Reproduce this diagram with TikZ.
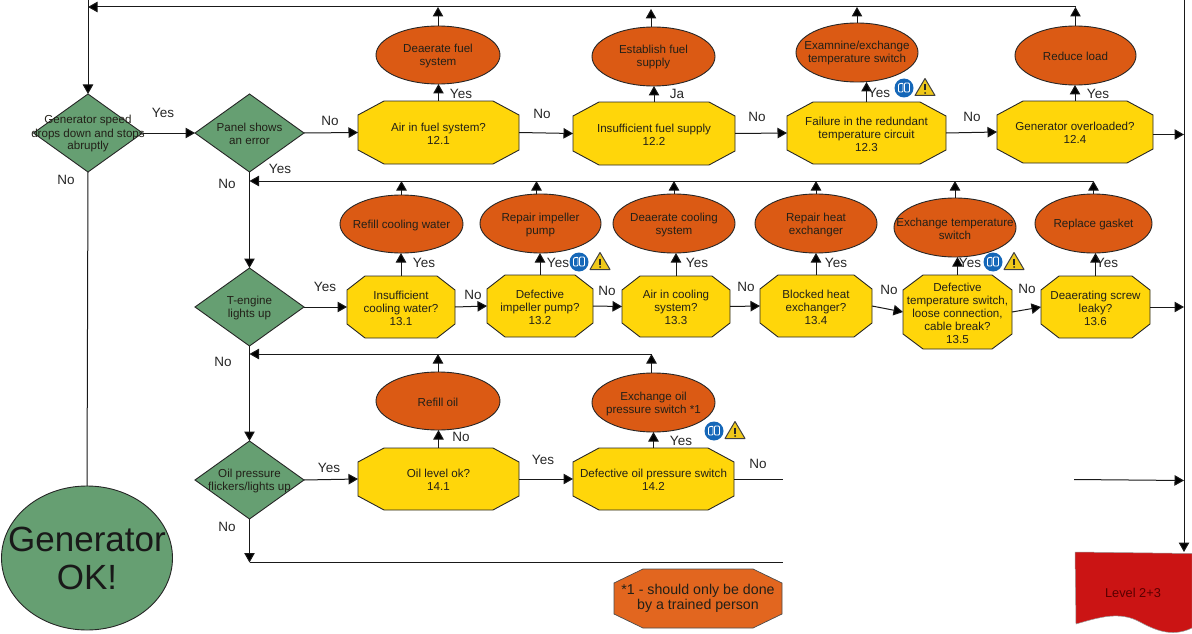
\documentclass[tikz,border=0pt]{standalone}
\usepackage{fontspec}
\setmainfont{Liberation Sans}
\usetikzlibrary{shapes.geometric,arrows.meta,calc}
\definecolor{dgreen}{HTML}{669F72}
\definecolor{eorange}{HTML}{DB5A14}
\definecolor{oyellow}{HTML}{FFD60A}
\definecolor{lred}{HTML}{CB1414}
\definecolor{forange}{HTML}{E2661F}
\definecolor{iblue}{HTML}{1567B8}
\definecolor{iyellow}{HTML}{EFC81A}
\definecolor{inkdark}{HTML}{222018}
\tikzset{
  flow/.style={line width=1pt,draw=black!90,-{Triangle[length=9.5pt,width=10.5pt,fill=black]}},
  plain/.style={line width=1pt,draw=black!90},
  outline/.style={line width=0.9pt,draw=black!85},
  txt/.style={text=inkdark,align=center,font=\fontsize{11.6}{13}\selectfont,inner sep=0pt,yshift=-1pt},
  lab/.style={text=black!85,font=\fontsize{13.5}{15}\selectfont,inner sep=0pt},
  hold/.style={shape=rectangle,inner sep=0pt,outer sep=0pt},
  dia/.style={shape=diamond,outline,fill=dgreen,inner sep=0pt,outer sep=0pt,minimum width=109pt,minimum height=78pt},
  ell/.style={shape=ellipse,outline,fill=eorange,inner sep=0pt,outer sep=0pt},
}
% name, x1, x2, y1, y2, cutx, cuty, fill, text
\newcommand{\octnode}[9]{%
  \fill[#8,outline] (#2+#6,#4) -- (#3-#6,#4) -- (#3,#4+#7) -- (#3,#5-#7) -- (#3-#6,#5) -- (#2+#6,#5) -- (#2,#5-#7) -- (#2,#4+#7) -- cycle;
  \node[hold,minimum width=#3-#2,minimum height=#5-#4] (#1) at ({(#2+#3)/2},{(#4+#5)/2}) {};
  \node[txt] (#1t) at (#1.center) {#9};}
% name, cx, cy, text
\newcommand{\dianode}[4]{%
  \node[dia] (#1) at (#2,#3) {};
  \node[txt] (#1t) at (#1.center) {#4};}
% name, x1, x2, y1, y2, text
\newcommand{\ellnode}[6]{%
  \node[ell,minimum width=#3-#2,minimum height=#5-#4] (#1) at ({(#2+#3)/2},{(#4+#5)/2}) {};
  \node[txt] (#1t) at (#1.center) {#6};}
% blue book disc and warning triangle
\newcommand{\icons}[2]{%
  \fill[iblue] (#1,#2) circle (9.5);
  \draw[white,line width=0.9pt,rounded corners=1pt] (#1-5.5,#2+4) -- (#1-5.5,#2-4) -- (#1-1,#2-5) -- (#1-1,#2+4) -- cycle
     (#1+0.5,#2+4) -- (#1+0.5,#2-5) -- (#1+5.5,#2-5) -- (#1+5.5,#2+4) -- cycle;
  \fill[iyellow,draw=black!75,line width=1pt,line join=round] (#1+21,#2-9.5) -- (#1+31,#2+7.5) -- (#1+11,#2+7.5) -- cycle;
  \draw[black!85,line width=1.5pt] (#1+21,#2-3.5) -- (#1+21,#2+2.5);
  \fill[black!85] (#1+21,#2+5) circle (1);}
\begin{document}
\begin{tikzpicture}[x=1pt,y=-1pt]
\useasboundingbox (0,0) rectangle (1192,634);
% decisions
\dianode{d1}{88}{133}{Generator speed\\drops down and stops\\abruptly}
\dianode{d2}{249.5}{133}{Panel shows\\an error}
\dianode{d3}{249.5}{307}{T-engine\\lights up}
\dianode{d4}{249.5}{480}{Oil pressure\\flickers/lights up}
% row 12
\octnode{a1}{358}{519}{101}{164}{26}{14}{oyellow}{Air in fuel system?\\12.1}
\octnode{a2}{573}{735}{102}{165}{26}{14}{oyellow}{Insufficient fuel supply\\12.2}
\octnode{a3}{787}{946}{102}{164}{26}{14}{oyellow}{Failure in the redundant\\temperature circuit\\12.3}
\octnode{a4}{997}{1153}{101}{163}{26}{14}{oyellow}{Generator overloaded?\\12.4}
\ellnode{e1}{376}{500}{26}{84}{Deaerate fuel\\system}
\ellnode{e2}{592}{715}{27}{86}{Establish fuel\\supply}
\ellnode{e3}{796}{918}{23}{82}{Examnine/exchange\\temperature switch}
\ellnode{e4}{1015}{1136}{26}{85}{Reduce load}
% row 13
\octnode{b1}{347}{455}{276}{338}{18}{14}{oyellow}{Insufficient\\cooling water?\\13.1}
\octnode{b2}{487}{593}{275}{337}{18}{14}{oyellow}{Defective\\impeller pump?\\13.2}
\octnode{b3}{622}{730}{276}{337}{18}{14}{oyellow}{Air in cooling\\system?\\13.3}
\octnode{b4}{760}{872}{275}{337}{18}{14}{oyellow}{Blocked heat\\exchanger?\\13.4}
\octnode{b5}{903}{1012}{275}{349}{20}{15}{oyellow}{Defective\\temperature switch,\\loose connection,\\cable break?\\13.5}
\octnode{b6}{1041}{1150}{276}{338}{18}{14}{oyellow}{Deaerating screw\\leaky?\\13.6}
\ellnode{f1}{340}{463}{195}{253}{Refill cooling water}
\ellnode{f2}{480}{601}{194}{253}{Repair impeller\\pump}
\ellnode{f3}{613}{735}{194}{253}{Deaerate cooling\\system}
\ellnode{f4}{755}{877}{194}{253}{Repair heat\\exchanger}
\ellnode{f5}{894}{1016}{198}{257}{Exchange temperature\\switch}
\ellnode{f6}{1035}{1152}{194}{253}{Replace gasket}
% row 14
\octnode{c1}{358}{519}{448}{510}{26}{14}{oyellow}{Oil level ok?\\14.1}
\octnode{c2}{573}{734}{448}{510}{26}{14}{oyellow}{Defective oil pressure switch\\14.2}
\ellnode{g1}{376}{500}{372}{430}{Refill oil}
\ellnode{g2}{592}{715}{373}{432}{Exchange oil\\pressure switch *1}
% footnote
\fill[forange,line width=0.7pt,draw=black!70] (643,569) -- (753,569) -- (782,583) -- (782,614) -- (753,628) -- (643,628) -- (614,614) -- (614,583) -- cycle;
\node[hold,align=center,text=inkdark,font=\fontsize{14.2}{15.5}\selectfont] (fn) at (698,598.5) {*1 - should only be done\\by a trained person};
% generator ok
\node[shape=ellipse,outline,fill=dgreen,inner sep=0pt,outer sep=0pt,minimum width=171pt,minimum height=144pt] (ok) at (87,558) {};
\node[hold,align=center,text=black!90,font=\fontsize{35}{38}\selectfont] (okt) at (87,558) {Generator\\OK!};
% level 2+3
\fill[lred,line width=0.5pt,draw=black!40] (1075,552) -- (1192,553.5) -- (1192,628) .. controls (1175,636) and (1160,633) .. (1140,622) .. controls (1120,611) and (1100,617) .. (1076,624) -- cycle;
\node[hold,text=red!35!black,font=\fontsize{12.8}{15}\selectfont] (lv) at (1133,593) {Level 2+3};
% free ends of connectors
\coordinate (top0) at (88,0);
\coordinate (top1) at (88,7);
\coordinate (topr) at (1076,7);
\coordinate (ret2) at (249.5,181);
\coordinate (ret2r) at (1093,181);
\coordinate (ret3) at (249.5,354);
\coordinate (ret3r) at (652,354);
\coordinate (v0) at (1184,0);
\coordinate (va) at (1184,134.5);
\coordinate (vb) at (1184,307);
\coordinate (vc) at (1184,480.5);
\coordinate (vd) at (1184,552);
\coordinate (c2end) at (783,479);
\coordinate (c2cont) at (1074,479.5);
\coordinate (low) at (249.5,562.5);
\coordinate (lowend) at (783,562.5);
% main lines
\draw[flow] (top0) -- (d1.north);
\draw[flow] (topr) -- (top1);
\draw[flow] (d1.east) -- (d2.west);
\draw[plain] (d1.south) -- (ok.north);
\draw[flow] (d2.south) -- (d3.north);
\draw[flow] (d3.south) -- (d4.north);
\draw[flow] (d4.south) -- (low);
\draw[plain] (low) -- (lowend);
\draw[flow] (ret2r) -- (ret2);
\draw[flow] (ret3r) -- (ret3);
\draw[flow] (v0) -- (vd);
% row 12
\draw[flow] (d2.east) -- (a1.west);
\draw[flow] (a1.east) -- (a2.west);
\draw[flow] (a2.east) -- (a3.west);
\draw[flow] (a3.east) -- (a4.west);
\draw[flow] (a4.east |- va) -- (va);
\foreach \n/\m in {a1/e1,a2/e2,a3/e3,a4/e4}{\draw[flow] (\n.north) -- (\n.north |- \m.south);}
\foreach \m in {e1,e3}{\draw[flow] (\m.north) -- (\m.north |- topr);}
\draw[flow] (e2.north) ++(-2.5,0) -- ++(0,-18);
\draw[flow] (e4.north) -- (e4.north |- topr);
% row 13
\draw[flow] (d3.east) -- (b1.west);
\draw[flow] (b1.east) -- (b2.west);
\draw[flow] (b2.east) -- (b3.west);
\draw[flow] (b3.east) -- (b4.west);
\draw[flow] (b4.east) -- (b5.west);
\draw[flow] (b5.east) -- (b6.west);
\draw[flow] (b6.east) -- (vb);
\foreach \n/\m in {b1/f1,b2/f2,b3/f3,b4/f4,b5/f5,b6/f6}{\draw[flow] (\n.north) -- (\n.north |- \m.south);}
\foreach \m in {f1,f3,f4,f5,f6}{\draw[flow] (\m.north) -- (\m.north |- ret2r);}
\draw[flow] (f2.north) ++(-4,0) -- ++(0,-13);
% row 14
\draw[flow] (d4.east) -- (c1.west);
\draw[flow] (c1.east) -- (c2.west);
\draw[plain] (c2.east) -- (c2end);
\draw[flow] (c2cont) -- (vc);
\foreach \n/\m in {c1/g1,c2/g2}{\draw[flow] (\n.north) -- (\n.north |- \m.south);}
\draw[flow] (g1.north) -- (g1.north |- ret3r);
\draw[flow] (g2.north) ++(-2,0) -- ++(0,-19);
% icons
\icons{904}{88}
\icons{579}{262}
\icons{993}{262}
\icons{714}{431}
% labels
\foreach \t/\x/\y/\k in {Yes/163/113/l1,No/66/180/l2,No/330/121/l3,Yes/280/169/l4,No/227/184/l5,
  Yes/461/94/l6,No/542/114/l7,Ja/677/94/l8,No/757/117/l9,Yes/879/93/l10,No/972/117/l11,Yes/1098/94/l12,
  Yes/325/287/l13,Yes/424/263/l14,No/473/295/l15,Yes/558/263/l16,No/607/291/l17,Yes/697/263/l18,No/746/287/l19,
  Yes/836/263/l20,No/889/290/l21,Yes/970/263/l22,No/1027/289/l23,Yes/1107/263/l24,
  No/223/362/l25,Yes/329/468/l26,No/227/527/l27,No/461/437/l28,Yes/543/460/l29,Yes/681/441/l30,No/758/464/l31}{
  \node[lab] (\k) at (\x,\y) {\t};}
\end{tikzpicture}
\end{document}
